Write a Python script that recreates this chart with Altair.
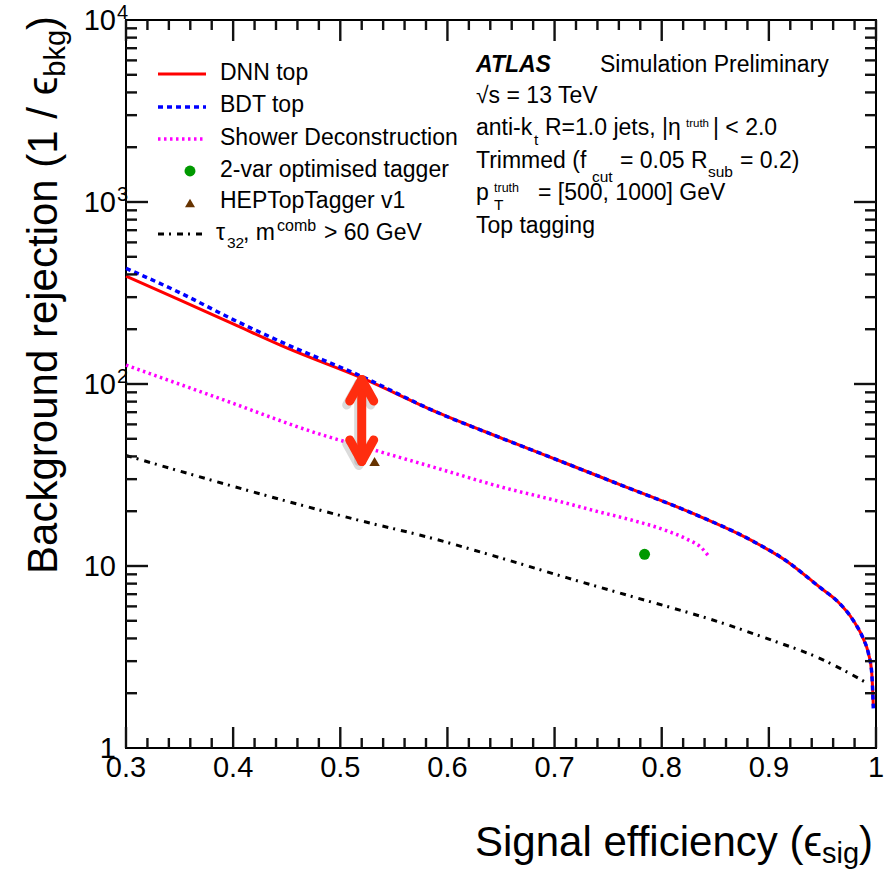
import altair as alt
import pandas as pd

# ---------------- data ----------------
eff_dnn = [0.300, 0.350, 0.400, 0.450, 0.520, 0.590, 0.652, 0.714,
           0.761, 0.824, 0.885, 0.917, 0.948, 0.964, 0.979, 0.988, 0.993, 0.996, 0.9975]
rej_dnn = [392, 290, 214, 158, 108, 70, 50, 36,
           28, 20, 13.7, 10.6, 7.6, 6.4, 5.0, 4.0, 3.3, 2.6, 1.7]
eff_bdt = [0.300, 0.350, 0.400, 0.450, 0.520, 0.590, 0.652, 0.714,
           0.761, 0.824, 0.885, 0.917, 0.948, 0.964, 0.979, 0.988, 0.993, 0.996, 0.9975]
rej_bdt = [432, 318, 226, 165, 110, 70, 50, 36,
           28, 20, 13.7, 10.6, 7.6, 6.4, 5.0, 4.0, 3.3, 2.6, 1.65]
eff_sd = [0.300, 0.388, 0.481, 0.528, 0.590, 0.652, 0.700, 0.742, 0.770, 0.805, 0.824, 0.837, 0.845]
rej_sd = [127, 83, 53, 44, 34.5, 27.0, 23.0, 19.8, 18.0, 15.6, 14.0, 12.6, 11.1]
eff_tau = [0.300, 0.434, 0.528, 0.574, 0.656, 0.712, 0.761, 0.864, 0.898, 0.948, 0.993]
rej_tau = [40.5, 24.1, 17.2, 14.8, 10.8, 8.6, 7.1, 4.7, 4.0, 3.1, 2.25]
twovar_eff = [0.784]
twovar_rej = [11.6]
hep_eff = [0.532]
hep_rej = [37.5]
arrow_eff = [0.52]
arrow_top = [106]
arrow_bottom = [37.5]

x_major = [0.3, 0.4, 0.5, 0.6, 0.7, 0.8, 0.9, 1.0]
x_labels = ["0.3", "0.4", "0.5", "0.6", "0.7", "0.8", "0.9", "1"]
x_minor = [round(0.3 + 0.02 * i, 2) for i in range(36) if i % 5]
y_major = [1, 10, 100, 1000, 10000]
y_base = ["1", "10", "10", "10", "10"]
y_exp = ["", "", "2", "3", "4"]
y_minor = [m * 10 ** k for k in range(4) for m in range(2, 10)]

# ---------------- layout ----------------
W, H = 750, 728
X0, Y0 = 126, 20
FONT = "Liberation Sans"
XMIN, XMAX = 0.3, 1.0
YMIN, YMAX = 1.0, 10000.0
DEC = 4  # decades on the y axis

xs = alt.Scale(domain=[XMIN, XMAX], nice=False, zero=False)
ys = alt.Scale(type="log", domain=[YMIN, YMAX], nice=False)

AW = {' ': 278, '(': 333, ')': 333, ',': 278, '/': 278,
      'B': 667, 'S': 667,
      'a': 556, 'b': 556, 'c': 500, 'd': 556, 'e': 556, 'f': 278, 'g': 556, 'h': 556,
      'i': 222, 'j': 222, 'k': 500, 'l': 222, 'm': 833, 'n': 556, 'o': 556, 'p': 556,
      'r': 333, 's': 500, 't': 278, 'u': 556, 'v': 500, 'y': 500, 'ϵ': 480}


def tw(s, size):
    return sum(AW.get(c, 556) for c in s) / 1000.0 * size


dummy = pd.DataFrame({"d": [0]})


def txt(s, X, Y, size, align="left", angle=None, color="black", weight="normal", style="normal"):
    kw = dict(text=s, font=FONT, fontSize=size, align=align, baseline="alphabetic",
              color=color, fontWeight=weight, fontStyle=style)
    if angle is not None:
        kw["angle"] = angle
    return alt.Chart(dummy).mark_text(**kw).encode(x=alt.value(X - X0), y=alt.value(Y - Y0))


def curve(eff, rej, color, width, dash=None):
    df = pd.DataFrame({"e": eff, "r": rej})
    kw = dict(color=color, strokeWidth=width, interpolate="monotone")
    if dash:
        kw["strokeDash"] = dash
    return alt.Chart(df).mark_line(**kw).encode(
        x=alt.X("e:Q", scale=xs, axis=None), y=alt.Y("r:Q", scale=ys, axis=None))


def px_to_ylog(px):
    return 10 ** (px / H * DEC)


def px_to_x(px):
    return px / W * (XMAX - XMIN)


TW = 2.4  # tick thickness in pixels


def tick_rects(vals, length, side):
    """Inward ROOT-style ticks drawn as thin filled rectangles in data coordinates."""
    x1, x2, y1, y2 = [], [], [], []
    for v in vals:
        if side in ("bottom", "top"):
            x1.append(v - px_to_x(TW / 2))
            x2.append(v + px_to_x(TW / 2))
            if side == "bottom":
                y1.append(YMIN)
                y2.append(YMIN * px_to_ylog(length))
            else:
                y1.append(YMAX)
                y2.append(YMAX / px_to_ylog(length))
        else:
            y1.append(v / px_to_ylog(TW / 2))
            y2.append(v * px_to_ylog(TW / 2))
            if side == "left":
                x1.append(XMIN)
                x2.append(XMIN + px_to_x(length))
            else:
                x1.append(XMAX)
                x2.append(XMAX - px_to_x(length))
    df = pd.DataFrame({"kx1": x1, "kx2": x2, "ky1": y1, "ky2": y2})
    return alt.Chart(df).mark_rect(color="#111111", opacity=1, strokeWidth=0).encode(
        x=alt.X("kx1:Q", scale=xs, axis=None), x2="kx2:Q",
        y=alt.Y("ky1:Q", scale=ys, axis=None), y2="ky2:Q")


layers = []

# tick labels
xlab_df = pd.DataFrame({"v": x_major, "t": x_labels})
layers.append(alt.Chart(xlab_df).mark_text(font=FONT, fontSize=29, align="center", baseline="alphabetic").encode(
    x=alt.X("v:Q", scale=xs, axis=None), y=alt.value(H + 29), text="t:N"))
ylab_df = pd.DataFrame({"v": y_major, "b": y_base, "e": y_exp})
layers.append(alt.Chart(ylab_df).mark_text(font=FONT, fontSize=29, align="right", baseline="alphabetic", dy=10).encode(
    y=alt.Y("v:Q", scale=ys, axis=None), x=alt.value(-10), text="b:N"))
layers.append(alt.Chart(ylab_df).mark_text(font=FONT, fontSize=20, align="left", baseline="alphabetic", dy=-1).encode(
    y=alt.Y("v:Q", scale=ys, axis=None), x=alt.value(-9), text="e:N"))

# curves
layers.append(curve(eff_sd, rej_sd, "#ff00ff", 3.5, [2.5, 3.5]))
layers.append(curve(eff_tau, rej_tau, "black", 3, [6, 5, 2, 6]))
layers.append(curve(eff_dnn, rej_dnn, "#ff0000", 3))
layers.append(curve(eff_bdt, rej_bdt, "#0000ff", 3.5, [5, 4]))

# points
layers.append(alt.Chart(pd.DataFrame({"e": twovar_eff, "r": twovar_rej})).mark_point(
    shape="circle", filled=True, color="#009900", size=120, opacity=1).encode(
    x=alt.X("e:Q", scale=xs, axis=None), y=alt.Y("r:Q", scale=ys, axis=None)))
layers.append(alt.Chart(pd.DataFrame({"e": hep_eff, "r": hep_rej})).mark_point(
    shape="triangle-up", filled=True, color="#663300", size=110, opacity=1).encode(
    x=alt.X("e:Q", scale=xs, axis=None), y=alt.Y("r:Q", scale=ys, axis=None)))

# red double arrow (with soft shadow)
adf = pd.DataFrame({"e": arrow_eff, "t": arrow_top, "b": arrow_bottom})
ARROW = "#ff2d0f"
for col, op, xo, yo in [("#999999", 0.35, -3, 4), (ARROW, 1, 0, 0)]:
    layers.append(alt.Chart(adf).mark_rule(color=col, opacity=op, strokeWidth=9, strokeCap="round",
                                           xOffset=xo, yOffset=yo).encode(
        x=alt.X("e:Q", scale=xs, axis=None), y=alt.Y("t:Q", scale=ys, axis=None), y2="b:Q"))
    layers.append(alt.Chart(adf).mark_point(shape="M-1,1.8L0,0L1,1.8", size=576, filled=False, stroke=col,
                                            opacity=op, strokeWidth=9, strokeCap="round", strokeJoin="round",
                                            xOffset=xo, yOffset=yo).encode(
        x=alt.X("e:Q", scale=xs, axis=None), y=alt.Y("t:Q", scale=ys, axis=None)))
    layers.append(alt.Chart(adf).mark_point(shape="M-1,-1.8L0,0L1,-1.8", size=576, filled=False, stroke=col,
                                            opacity=op, strokeWidth=9, strokeCap="round", strokeJoin="round",
                                            xOffset=xo, yOffset=yo).encode(
        x=alt.X("e:Q", scale=xs, axis=None), y=alt.Y("b:Q", scale=ys, axis=None)))

# legend
LS = 23


def leg_line(Y, color, width, dash=None):
    kw = dict(color=color, strokeWidth=width)
    if dash:
        kw["strokeDash"] = dash
    return alt.Chart(dummy).mark_rule(**kw).encode(
        x=alt.value(158 - X0), x2=alt.value(206 - X0), y=alt.value(Y - Y0))


layers += [leg_line(74, "#ff0000", 3), txt("DNN top", 220, 80, LS),
           leg_line(107, "#0000ff", 3.5, [5, 4]), txt("BDT top", 220, 112, LS),
           leg_line(139, "#ff00ff", 3.5, [2.5, 3.5]), txt("Shower Deconstruction", 220, 145, LS),
           txt("2-var optimised tagger", 220, 177, LS),
           txt("HEPTopTagger v1", 220, 208, LS),
           leg_line(234, "black", 3, [6, 5, 2, 6])]
layers.append(alt.Chart(dummy).mark_point(shape="circle", filled=True, color="#009900", size=120, opacity=1).encode(
    x=alt.value(190 - X0), y=alt.value(171 - Y0)))
layers.append(alt.Chart(dummy).mark_point(shape="triangle-up", filled=True, color="#663300", size=100, opacity=1).encode(
    x=alt.value(190 - X0), y=alt.value(203 - Y0)))
layers += [txt("τ", 216, 240, LS), txt("32", 227, 248, 15.5), txt(", m", 243, 240, LS),
           txt("comb", 277, 231, 16), txt("> 60 GeV", 324, 240, LS)]

# ATLAS block
layers.append(txt("ATLAS", 476, 72, LS, weight="bold", style="italic"))
layers.append(txt("Simulation Preliminary", 600, 72, LS))
layers.append(txt("√s = 13 TeV", 476, 103, LS))
layers += [txt("anti-k", 476, 135, LS), txt("t", 534, 145, 15.5), txt("R=1.0 jets, |η", 545, 135, LS),
           txt("truth", 686, 127, 11.5), txt("| < 2.0", 713, 135, LS)]
layers += [txt("Trimmed (f", 476, 168, LS), txt("cut", 592, 182, 15.5), txt("= 0.05 R", 620, 168, LS),
           txt("sub", 708, 177, 15.5), txt("= 0.2)", 740, 168, LS)]
layers += [txt("p", 476, 200, LS), txt("T", 494, 210, 15.5), txt("truth", 494, 192, 12.5),
           txt("= [500, 1000] GeV", 538, 200, LS)]
layers.append(txt("Top tagging", 476, 233, LS))

# axis titles
TS = 42
SUB = 29
xr = 873
xb = 856
layers.append(txt(")", xr, xb, TS, align="right"))
layers.append(txt("sig", xr - tw(")", TS), xb + 7, SUB, align="right"))
layers.append(txt("Signal efficiency (ϵ", xr - tw(")", TS) - tw("sig", SUB), xb, TS, align="right"))
yt = 16
yb = 57
layers.append(txt(")", yb, yt, TS, align="right", angle=270))
layers.append(txt("bkg", yb + 8, yt + tw(")", TS), SUB, align="right", angle=270))
layers.append(txt("Background rejection (1 / ϵ", yb, yt + tw(")", TS) + tw("bkg", SUB), TS,
                  align="right", angle=270))

# ticks on all four sides, drawn last so nothing covers them
for side, majors, minors, lmaj, lmin in [("bottom", x_major, x_minor, 21, 10), ("top", x_major, x_minor, 21, 10),
                                         ("left", y_major[1:-1], y_minor, 22, 11),
                                         ("right", y_major[1:-1], y_minor, 22, 11)]:
    layers += [tick_rects(majors, lmaj, side), tick_rects(minors, lmin, side)]

chart = alt.layer(*layers).properties(
    width=W, height=H,
    padding={"left": X0, "top": Y0, "right": 887 - X0 - W, "bottom": 871 - Y0 - H},
    autosize=alt.AutoSizeParams(type="none"),
).configure_view(stroke="black", strokeWidth=2)

chart.save("out.html", embed_options={"renderer": "svg", "actions": False})
